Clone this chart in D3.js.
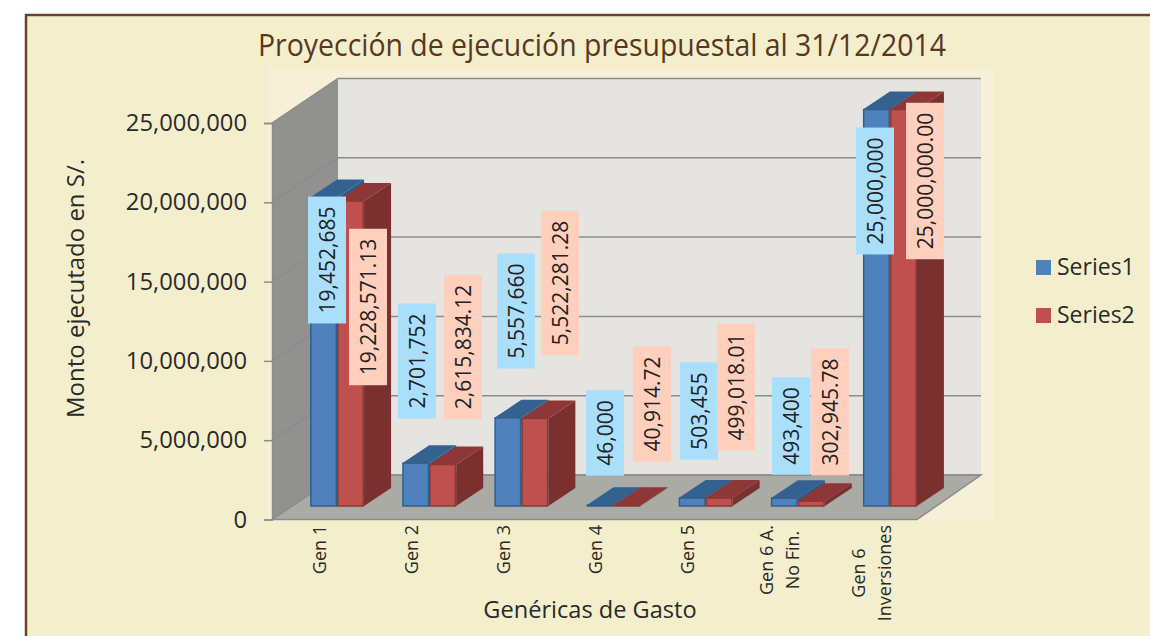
<!DOCTYPE html>
<html>
<head>
<meta charset="utf-8">
<script src="https://cdnjs.cloudflare.com/ajax/libs/d3/7.8.5/d3.min.js"></script>
<style>
html, body { margin: 0; padding: 0; background: #fff; overflow: hidden; }
svg { display: block; font-family: "Open Sans", sans-serif; }
</style>
</head>
<body>
<div id="chart"></div>
<script>
var categories = ["Gen 1", "Gen 2", "Gen 3", "Gen 4", "Gen 5", "Gen 6 A.|No Fin.", "Gen 6|Inversiones"];
var seriesNames = ["Series1", "Series2"];
var series1 = [19452685, 2701752, 5557660, 46000, 503455, 493400, 25000000];
var series2 = [19228571.13, 2615834.12, 5522281.28, 40914.72, 499018.01, 302945.78, 25000000];
var yTicks = [0, 5000000, 10000000, 15000000, 20000000, 25000000];

// the value labels were dragged by hand in the original, so they keep their own anchors
var labelAnchors1 = [[327, 260], [417, 361], [516, 311], [605, 433], [699, 411], [791, 426], [875, 191]];
var labelAnchors2 = [[368, 307], [463, 347], [560, 283], [652, 404], [736, 387], [830, 412], [925, 181]];

var width = 1150, height = 636;
var front = { left: 272, right: 917 };
var wall = { dx: 66, dy: -44.5 };   // front edge to back wall
var barPlane = { dx: 19, dy: -13.5 };   // front edge to front of the bars
var barDepth = { dx: 27, dy: -18 };

var colors = [
    { front: "#4F81BD", top: "#336290", side: "#2F5A85", stroke: "#2F5F8E", label: "#A9DFFB", fmt: d3.format(",") },
    { front: "#C0504D", top: "#8E3737", side: "#7B3030", stroke: "#8C3836", label: "#FFCFBD", fmt: d3.format(",.2f") }
];

var x = d3.scaleBand().domain(categories).range([front.left, front.right]);
var xInner = d3.scaleBand().domain(seriesNames).range([0, 54]);
var y = d3.scaleLinear().domain([0, 25000000]).range([519.5, 123]);

var svg = d3.select("#chart")
    .append("svg")
    .attr("width", width)
    .attr("height", height);

function pts(list) {
    return list.map(function(p) { return p.join(","); }).join(" ");
}

// panel
svg.append("rect")
    .attr("x", 26).attr("y", 15)
    .attr("width", width).attr("height", height)
    .attr("fill", "#F3EECB")
    .attr("stroke", "#6B4228")
    .attr("stroke-width", 2.5);

svg.append("rect")
    .attr("x", 268).attr("y", 68)
    .attr("width", 726).attr("height", 453)
    .attr("fill", "#F5F0D7");

svg.append("text")
    .attr("x", 602).attr("y", 56)
    .attr("text-anchor", "middle")
    .attr("font-size", 31)
    .attr("textLength", 688)
    .attr("lengthAdjust", "spacingAndGlyphs")
    .attr("fill", "#5A3720")
    .text("Proyección de ejecución presupuestal al 31/12/2014");

// walls and floor
var y0 = y(0), yTop = y(25000000);
svg.append("polygon")
    .attr("points", pts([[front.left, yTop], [front.left + wall.dx, yTop + wall.dy], [front.left + wall.dx, y0 + wall.dy], [front.left, y0]]))
    .attr("fill", "#919190");
svg.append("polygon")
    .attr("points", pts([[front.left + wall.dx, yTop + wall.dy], [front.right + wall.dx - 2, yTop + wall.dy], [front.right + wall.dx - 2, y0 + wall.dy], [front.left + wall.dx, y0 + wall.dy]]))
    .attr("fill", "#E6E4E1");
svg.append("polygon")
    .attr("points", pts([[front.left, y0], [front.left + wall.dx, y0 + wall.dy], [front.right + wall.dx - 2, y0 + wall.dy], [front.right, y0]]))
    .attr("fill", "#ABABA6")
    .attr("stroke", "#8C8C8A")
    .attr("stroke-width", 1.5);

var grid = svg.append("g").attr("fill", "none").attr("stroke", "#8C8C8A").attr("stroke-width", 1.5);
grid.selectAll("polyline")
    .data(yTicks)
    .enter()
    .append("polyline")
    .attr("points", function(d) {
        return pts([[front.left, y(d)], [front.left + wall.dx, y(d) + wall.dy], [front.right + wall.dx - 2, y(d) + wall.dy]]);
    });

// y axis
var yAxis = svg.append("g")
    .attr("transform", "translate(" + front.left + ",0)")
    .call(d3.axisLeft(y).tickValues(yTicks).tickFormat(d3.format(",")).tickSize(8).tickPadding(17));
yAxis.select(".domain").attr("stroke", "#8C8C8A").attr("stroke-width", 1.5);
yAxis.selectAll(".tick line").attr("stroke", "#8C8C8A").attr("stroke-width", 1.5);
yAxis.selectAll(".tick text")
    .attr("font-size", 23.8)
    .attr("font-family", "Open Sans")
    .attr("fill", "#2A2A2A");

// bars, back to front inside each category
function drawBar(g, cat, name, value, c) {
    var left = x(cat) + x.bandwidth() / 2 - 27 + barPlane.dx + xInner(name);
    var w = xInner.bandwidth();
    var base = y(0) + barPlane.dy;
    var top = y(value) + barPlane.dy;
    var d = barDepth;

    g.append("polygon")
        .attr("points", pts([[left + w, top], [left + w + d.dx, top + d.dy], [left + w + d.dx, base + d.dy], [left + w, base]]))
        .attr("fill", c.side);
    g.append("polygon")
        .attr("points", pts([[left, top], [left + d.dx, top + d.dy], [left + w + d.dx, top + d.dy], [left + w, top]]))
        .attr("fill", c.top);
    g.append("rect")
        .attr("x", left + 0.75).attr("y", top)
        .attr("width", w - 1.5).attr("height", Math.max(base - top, 0.5))
        .attr("fill", c.front)
        .attr("stroke", c.stroke)
        .attr("stroke-width", 1.5);
}

var bars = svg.append("g");
categories.forEach(function(cat, i) {
    drawBar(bars, cat, seriesNames[0], series1[i], colors[0]);
    drawBar(bars, cat, seriesNames[1], series2[i], colors[1]);
});

// value labels
function drawLabels(values, anchors, c) {
    var g = svg.append("g");
    values.forEach(function(v, i) {
        var lab = g.append("g")
            .attr("transform", "translate(" + anchors[i][0] + "," + anchors[i][1] + ")");
        var box = lab.append("rect").attr("fill", c.label);
        var txt = lab.append("text")
            .attr("transform", "rotate(-90)")
            .attr("text-anchor", "middle")
            .attr("dy", "0.36em")
            .attr("font-size", 21)
            .attr("fill", "#222")
            .text(c.fmt(v));
        var len = txt.node().getComputedTextLength() + 20;
        box.attr("x", -19).attr("y", -len / 2).attr("width", 38).attr("height", len);
    });
}
drawLabels(series1, labelAnchors1, colors[0]);
drawLabels(series2, labelAnchors2, colors[1]);

// category labels, rotated. two line ones are centred against each other
var catLabels = svg.append("g").attr("font-size", 18).attr("fill", "#2A2A2A");
categories.forEach(function(cat) {
    var lines = cat.split("|");
    var cx = x(cat) + x.bandwidth() / 2 + 1;
    var g = catLabels.append("g");
    var texts = lines.map(function(line, i) {
        var off = lines.length > 1 ? (i === 0 ? -13 : 13) : 0;
        return g.append("text")
            .attr("data-x", cx + off)
            .attr("dy", "0.36em")
            .text(line);
    });
    var longest = d3.max(texts, function(t) { return t.node().getComputedTextLength(); });
    texts.forEach(function(t) {
        t.attr("text-anchor", "middle")
            .attr("transform", "translate(" + t.attr("data-x") + "," + (525 + longest / 2) + ") rotate(-90)");
    });
});

svg.append("text")
    .attr("transform", "translate(75,288.5) rotate(-90)")
    .attr("text-anchor", "middle")
    .attr("dy", "0.36em")
    .attr("font-size", 24)
    .attr("fill", "#2A2A2A")
    .text("Monto ejecutado en S/.");

svg.append("text")
    .attr("x", 590).attr("y", 618)
    .attr("text-anchor", "middle")
    .attr("font-size", 23.6)
    .attr("fill", "#2A2A2A")
    .text("Genéricas de Gasto");

// legend
var legend = svg.append("g").selectAll("g")
    .data(seriesNames)
    .enter()
    .append("g")
    .attr("transform", function(d, i) { return "translate(1036," + (260 + i * 48) + ")"; });
legend.append("rect")
    .attr("width", 15).attr("height", 15)
    .attr("fill", function(d, i) { return colors[i].front; });
legend.append("text")
    .attr("x", 21).attr("y", 15)
    .attr("font-size", 23)
    .attr("fill", "#2A2A2A")
    .text(function(d) { return d; });
</script>
</body>
</html>
